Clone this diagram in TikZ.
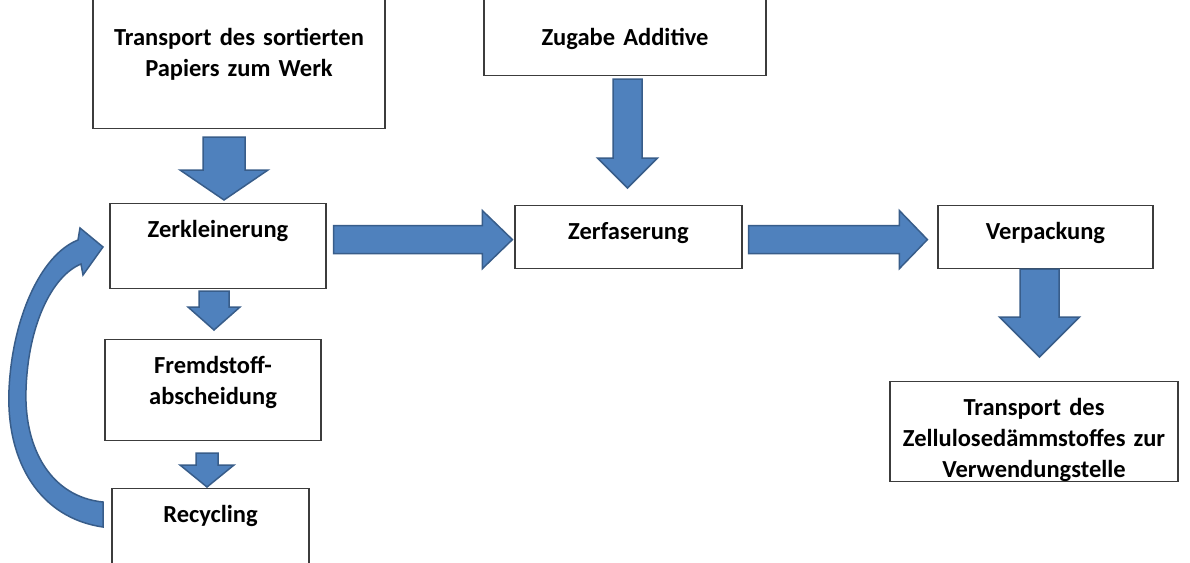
\documentclass[tikz,border=0pt]{standalone}
\usepackage{fontspec}
\setmainfont{Carlito}
\usetikzlibrary{calc, positioning}

\definecolor{arrowfill}{RGB}{79,129,189}
\definecolor{arrowline}{RGB}{56,93,138}
\definecolor{boxline}{RGB}{60,60,60}

\tikzset{
  stepbox/.style={draw=boxline, line width=1.2pt, fill=white, align=center, anchor=north,
    inner xsep=0pt, inner ysep=0pt, text height=34pt,
    font=\fontsize{24.5}{31}\selectfont\bfseries},
  blockarrow/.style={fill=arrowfill, draw=arrowline, line width=1.5pt, line join=miter}
}

% block arrow: start, tip, shaft half width, head half width, head length
\newcommand{\blockarrow}[5]{%
  \path (#1) coordinate (bs) (#2) coordinate (bt);
  \coordinate (bh) at ($(bt)!#5pt!(bs)$);
  \filldraw[blockarrow] ($(bs)!#3pt!90:(bt)$) -- ($(bh)!#3pt!90:(bt)$) -- ($(bh)!#4pt!90:(bt)$)
    -- (bt) -- ($(bh)!#4pt!-90:(bt)$) -- ($(bh)!#3pt!-90:(bt)$) -- ($(bs)!#3pt!-90:(bt)$) -- cycle;
}

\begin{document}
\begin{tikzpicture}[x=1pt, y=-1pt]
  \useasboundingbox (0,0) rectangle (1190,562);
  \clip (0,0) rectangle (1190,562);
  \fill[white] (0,0) rectangle (1190,562);

  \node[stepbox, text height=47pt, text width=292pt, text depth=83pt] (transport) at (239,-2) {Transport des sortierten\\Papiers zum Werk};
  \node[stepbox, text height=47pt, text width=282pt, text depth=30pt] (zugabe) at (625,-2) {Zugabe Additive};
  \node[stepbox, text width=216pt, text depth=51pt] (zerkl) at (218,203) {Zerkleinerung};
  \node[stepbox, text width=227pt, text depth=29pt] (zerfas) at (628.5,205) {Zerfaserung};
  \node[stepbox, text width=215pt, text depth=29pt] (verpack) at (1045.5,205) {Verpackung};
  \node[stepbox, text width=216pt, text depth=67pt] (fremd) at (213,339) {Fremdstoff-\\abscheidung};
  \node[stepbox, text width=197pt, text depth=53pt] (recyc) at (210.5,488) {Recycling};
  \node[stepbox, text width=288pt, text depth=66pt] (transzell) at (1034,381) {Transport des\\Zellulosedämmstoffes zur\\Verwendungstelle};

  % main line
  \blockarrow{$(transport.south)+(-15,8)$}{$(zerkl.north)+(6,-3)$}{21}{44}{30}
  \blockarrow{$(zerkl.east)+(7,-6.5)$}{$(zerfas.west)+(-2,2.5)$}{14}{29}{30}
  \blockarrow{$(zugabe.south)+(2.5,3)$}{$(zerfas.north)+(-1,-17)$}{14.5}{30}{30}
  \blockarrow{$(zerfas.east)+(6,2.5)$}{$(verpack.west)+(-10,2.5)$}{14}{29}{28}
  \blockarrow{$(verpack.south)+(-6,0)$}{$(transzell.north)+(5.5,-24)$}{19.5}{40}{40}

  % sorting branch
  \blockarrow{$(zerkl.south)+(-4,2)$}{$(fremd.north)+(1,-9)$}{15}{26}{23}
  \blockarrow{$(fremd.south)+(-6,12)$}{$(recyc.north)+(-3.5,-1)$}{11}{27}{22}

  % recycling loop back
  \filldraw[blockarrow] (103,527) .. controls (40,518) and (6,462) .. (9,390)
    .. controls (12,320) and (40,255) .. (78,240) -- (80,228) -- (103,247) -- (83,275) -- (81,264)
    .. controls (52,276) and (28,325) .. (26,390) .. controls (24,450) and (52,497) .. (103,502) -- cycle;
\end{tikzpicture}
\end{document}
